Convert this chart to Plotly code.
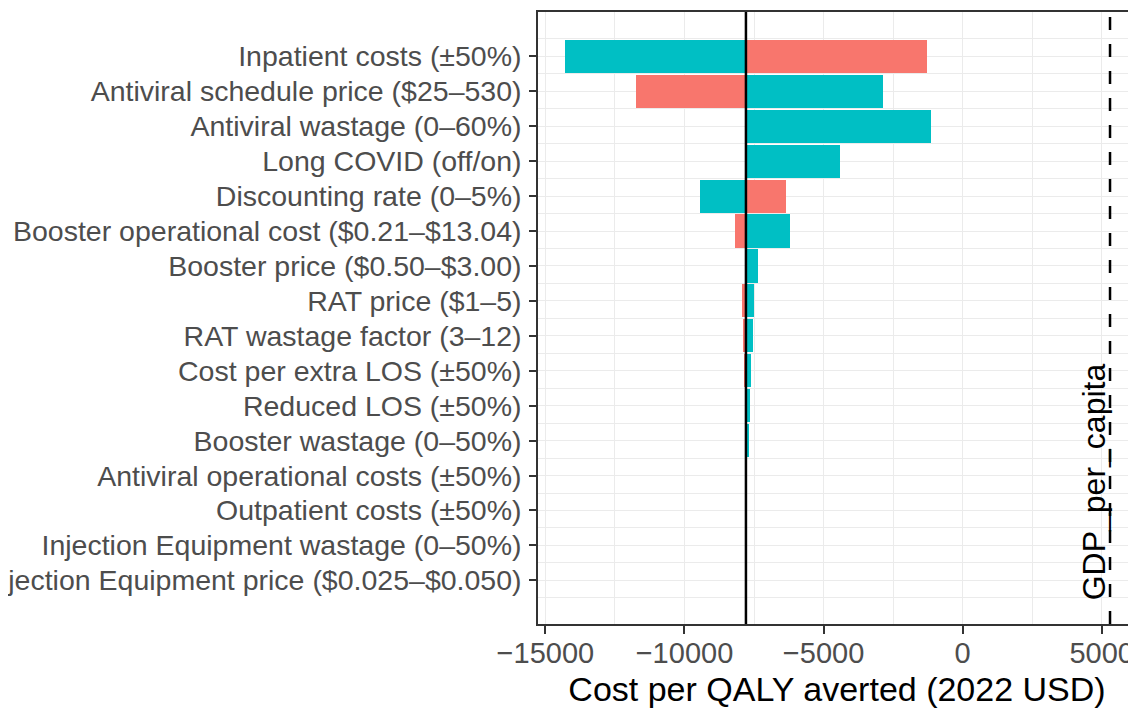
import plotly.graph_objects as go

# ---- data ----
params = [
    "Inpatient costs (±50%)",
    "Antiviral schedule price ($25–530)",
    "Antiviral wastage (0–60%)",
    "Long COVID (off/on)",
    "Discounting rate (0–5%)",
    "Booster operational cost ($0.21–$13.04)",
    "Booster price ($0.50–$3.00)",
    "RAT price ($1–5)",
    "RAT wastage factor (3–12)",
    "Cost per extra LOS (±50%)",
    "Reduced LOS (±50%)",
    "Booster wastage (0–50%)",
    "Antiviral operational costs (±50%)",
    "Outpatient costs (±50%)",
    "Injection Equipment wastage (0–50%)",
    "Injection Equipment price ($0.025–$0.050)",
]
base_value = -7790
red_values = [-1270, -11741, -7790, -7790, -6345, -8194, -7790, -7914, -7903,
              -7831, -7820, -7790, -7800, -7795, -7790, -7790]
teal_values = [-14281, -2867, -1144, -4399, -9450, -6209, -7353, -7507, -7543,
               -7615, -7651, -7687, -7745, -7765, -7785, -7788]
gdp_per_capita = 5300
x_ticks = [-15000, -10000, -5000, 0, 5000]
x_tick_labels = ["−15000", "−10000", "−5000", "0", "5000"]

RED = "#F8766D"
TEAL = "#00BFC4"
GRID = "#EBEBEB"
FONT = "Liberation Sans, Arial, sans-serif"

ypos = list(range(len(params)))

fig = go.Figure()
fig.add_trace(go.Bar(
    y=ypos, x=[v - base_value for v in red_values], base=base_value,
    orientation="h", marker=dict(color=RED, line=dict(width=0)),
    width=0.95, showlegend=False, name="low"))
fig.add_trace(go.Bar(
    y=ypos, x=[v - base_value for v in teal_values], base=base_value,
    orientation="h", marker=dict(color=TEAL, line=dict(width=0)),
    width=0.95, showlegend=False, name="high"))

# base-case line
fig.add_vline(x=base_value, line=dict(color="black", width=2.5), layer="above")
# GDP per capita threshold
fig.add_vline(x=gdp_per_capita, line=dict(color="black", width=2.5, dash="13px,14px"), layer="above")

fig.add_annotation(
    x=gdp_per_capita, y=15.5, xref="x", yref="y",
    text="GDP_per_capita", textangle=-90, showarrow=False,
    xanchor="right", yanchor="bottom", xshift=4, yshift=-5,
    font=dict(family=FONT, size=32, color="black"))

# page body has an 8px margin: figure is sized/offset to compensate
fig.update_layout(
    width=1128, height=700,
    margin=dict(l=530, r=0, t=4, b=84),
    paper_bgcolor="white", plot_bgcolor="white",
    barmode="overlay", bargap=0,
    font=dict(family=FONT),
)

fig.update_xaxes(
    range=[-15266, 6234],
    tickvals=x_ticks, ticktext=x_tick_labels,
    showgrid=True, gridcolor=GRID, gridwidth=1.3,
    minor=dict(tickvals=[-12500, -7500, -2500, 2500], showgrid=True,
               gridcolor=GRID, gridwidth=0.8, ticks=""),
    zeroline=False,
    showline=True, linecolor="#333333", linewidth=1.5, mirror=True,
    ticks="outside", ticklen=8, tickwidth=1.5, tickcolor="#333333",
    tickfont=dict(size=29, color="#4D4D4D"),
    ticklabelstandoff=-6,
    title=dict(text="Cost per QALY averted (2022 USD)",
               font=dict(size=34, color="black"), standoff=10),
    automargin=False,
)

fig.update_yaxes(
    range=[16.25, -1.27],
    tickvals=ypos, ticktext=params,
    showgrid=True, gridcolor=GRID, gridwidth=1.3,
    minor=dict(tickvals=[i + 0.5 for i in range(-1, len(params))], showgrid=True,
               gridcolor=GRID, gridwidth=0.8, ticks=""),
    zeroline=False,
    showline=True, linecolor="#333333", linewidth=1.5, mirror=True,
    ticks="outside", ticklen=7, tickwidth=1.5, tickcolor="#333333",
    tickfont=dict(size=28.5, color="#4D4D4D"),
    ticklabelstandoff=2,
    automargin=False,
)

fig.write_html("out.html")
